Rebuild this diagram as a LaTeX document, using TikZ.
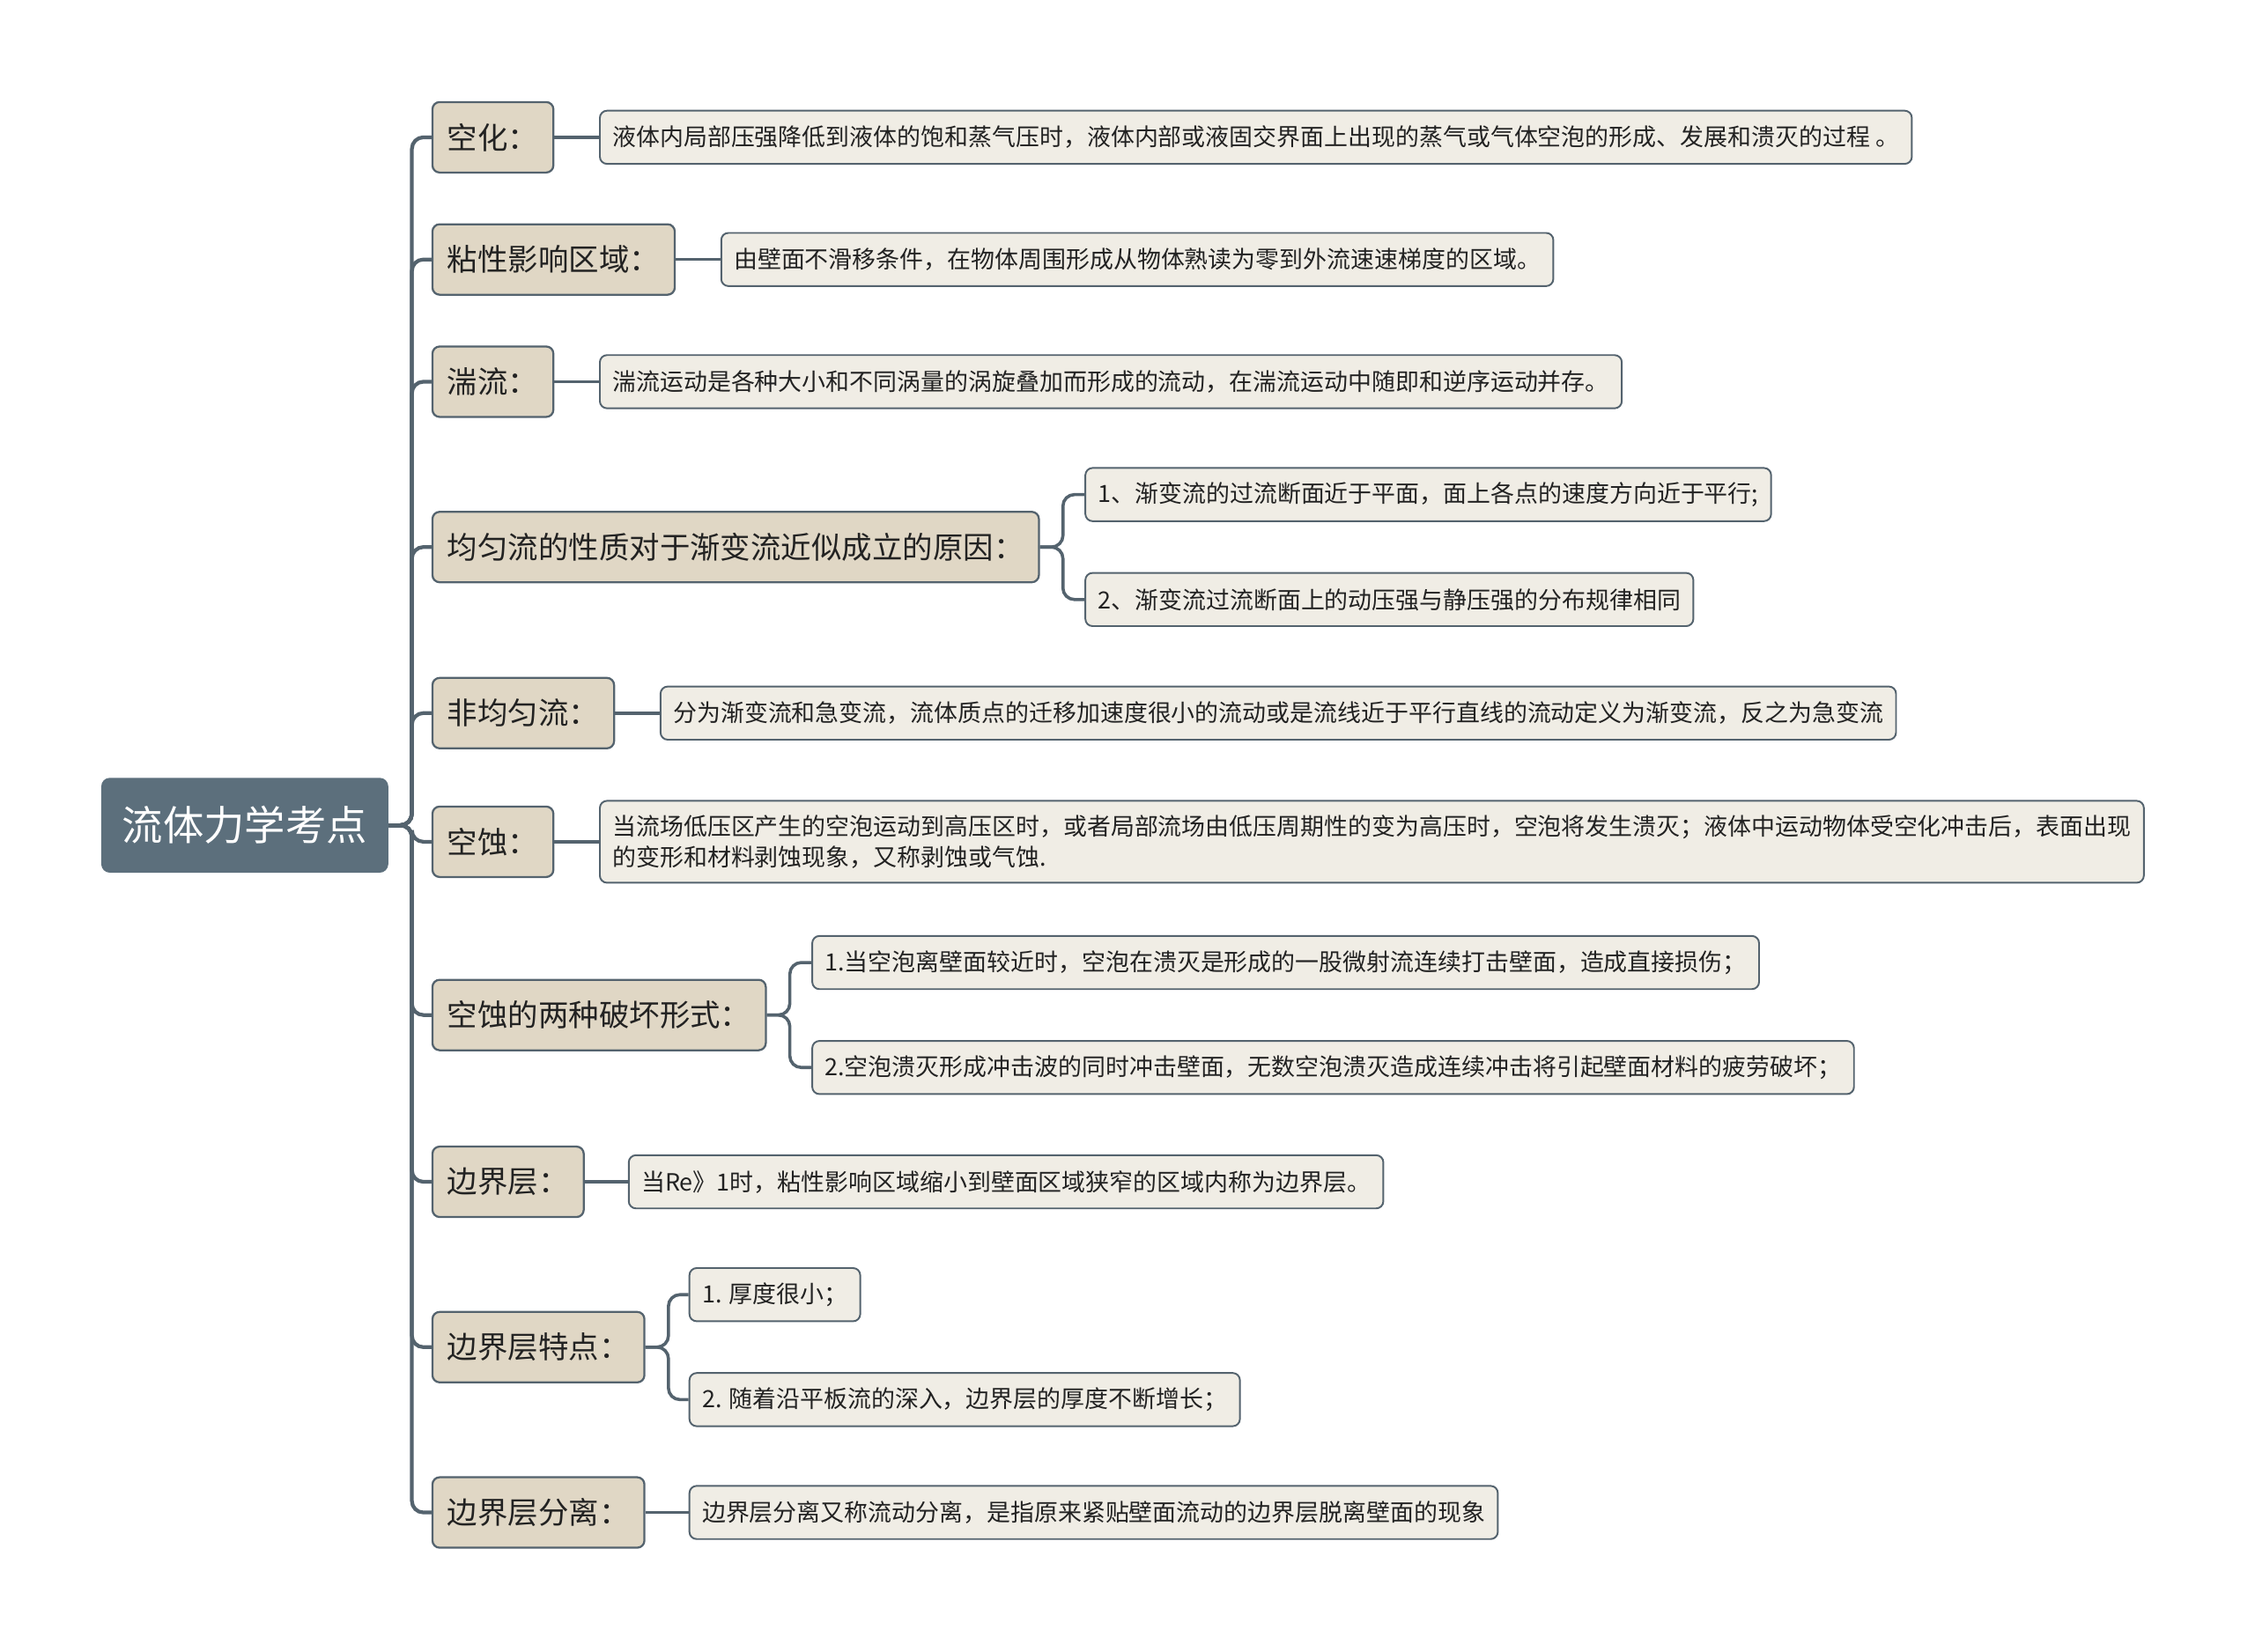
\documentclass[tikz,border=0pt]{standalone}
\usepackage{fontspec}
\setmainfont{Noto Sans CJK SC}
\usetikzlibrary{positioning}

\definecolor{rootfill}{RGB}{92,111,124}
\definecolor{topicfill}{RGB}{224,215,197}
\definecolor{leaffill}{RGB}{240,237,229}
\definecolor{edgecol}{RGB}{84,99,110}
\definecolor{txtcol}{RGB}{34,34,34}

\begin{document}
\begin{tikzpicture}[x=0.5pt,y=-0.5pt,
    root/.style={fill=rootfill, rounded corners=3pt, text=white, font=\fontsize{14.2}{16}\selectfont, minimum height=33pt, inner xsep=7.3pt, anchor=west},
    topic/.style={draw=edgecol, line width=0.7pt, fill=topicfill, rounded corners=2.5pt, text=txtcol, font=\fontsize{10.55}{12}\selectfont, minimum height=24.5pt, inner xsep=5.2pt, anchor=west},
    leaf/.style={draw=edgecol, line width=0.6pt, fill=leaffill, rounded corners=2.5pt, text=txtcol, font=\fontsize{8.25}{10.5}\selectfont, minimum height=18.5pt, inner xsep=4.4pt, align=left},
    link/.style={draw=edgecol, line width=1.3pt, rounded corners=4pt},
    sublink/.style={draw=edgecol, line width=1.1pt, rounded corners=4pt}]
    \useasboundingbox (0,0) rectangle (1568,1149);

    \node[root] (r) at (70,574) {流体力学考点};

    \node[topic] (k1) at (300,95.5) {空化：};
    \node[topic] (k2) at (300,180.5) {粘性影响区域：};
    \node[topic] (k3) at (300,265.5) {湍流：};
    \node[topic] (k4) at (300,380.5) {均匀流的性质对于渐变流近似成立的原因：};
    \node[topic] (k5) at (300,496) {非均匀流：};
    \node[topic] (k6) at (300,585.5) {空蚀：};
    \node[topic] (k7) at (300,706) {空蚀的两种破坏形式：};
    \node[topic] (k8) at (300,822) {边界层：};
    \node[topic] (k9) at (300,937) {边界层特点：};
    \node[topic] (k10) at (300,1052) {边界层分离：};

    \node[leaf, right=15.5pt of k1] (k1a) {液体内局部压强降低到液体的饱和蒸气压时，液体内部或液固交界面上出现的蒸气或气体空泡的形成、发展和溃灭的过程 。};
    \node[leaf, right=15.5pt of k2] (k2a) {由壁面不滑移条件，在物体周围形成从物体熟读为零到外流速速梯度的区域。};
    \node[leaf, right=15.5pt of k3] (k3a) {湍流运动是各种大小和不同涡量的涡旋叠加而形成的流动，在湍流运动中随即和逆序运动并存。};
    \node[leaf, right=15.5pt of k4, yshift=18.25pt] (k4a) {1、渐变流的过流断面近于平面，面上各点的速度方向近于平行;};
    \node[leaf, right=15.5pt of k4, yshift=-18.25pt] (k4b) {2、渐变流过流断面上的动压强与静压强的分布规律相同};
    \node[leaf, right=15.5pt of k5] (k5a) {分为渐变流和急变流，流体质点的迁移加速度很小的流动或是流线近于平行直线的流动定义为渐变流，反之为急变流};
    \node[leaf, right=15.5pt of k6, minimum height=28.5pt] (k6a) {当流场低压区产生的空泡运动到高压区时，或者局部流场由低压周期性的变为高压时，空泡将发生溃灭；液体中运动物体受空化冲击后，表面出现\\的变形和材料剥蚀现象，又称剥蚀或气蚀.};
    \node[leaf, right=15.5pt of k7, yshift=18.25pt] (k7a) {1.当空泡离壁面较近时，空泡在溃灭是形成的一股微射流连续打击壁面，造成直接损伤；};
    \node[leaf, right=15.5pt of k7, yshift=-18.25pt] (k7b) {2.空泡溃灭形成冲击波的同时冲击壁面，无数空泡溃灭造成连续冲击将引起壁面材料的疲劳破坏；};
    \node[leaf, right=15pt of k8] (k8a) {当Re》1时，粘性影响区域缩小到壁面区域狭窄的区域内称为边界层。};
    \node[leaf, right=15pt of k9, yshift=18.25pt] (k9a) {1. 厚度很小；};
    \node[leaf, right=15pt of k9, yshift=-18.25pt] (k9b) {2. 随着沿平板流的深入，边界层的厚度不断增长；};
    \node[leaf, right=15pt of k10] (k10a) {边界层分离又称流动分离，是指原来紧贴壁面流动的边界层脱离壁面的现象};

    \foreach \k in {k1,k2,k3,k4,k5,k6,k7,k8,k9,k10}
        \draw[link] (r.east) -- ++(16,0) |- (\k.west);

    \foreach \k in {k1,k2,k3,k5,k6,k8,k10}
        \draw[sublink] (\k.east) -- (\k a.west);

    \foreach \k in {k4,k7,k9} {
        \draw[sublink] (\k.east) -- ++(16,0) |- (\k a.west);
        \draw[sublink] (\k.east) -- ++(16,0) |- (\k b.west);
    }
\end{tikzpicture}
\end{document}
